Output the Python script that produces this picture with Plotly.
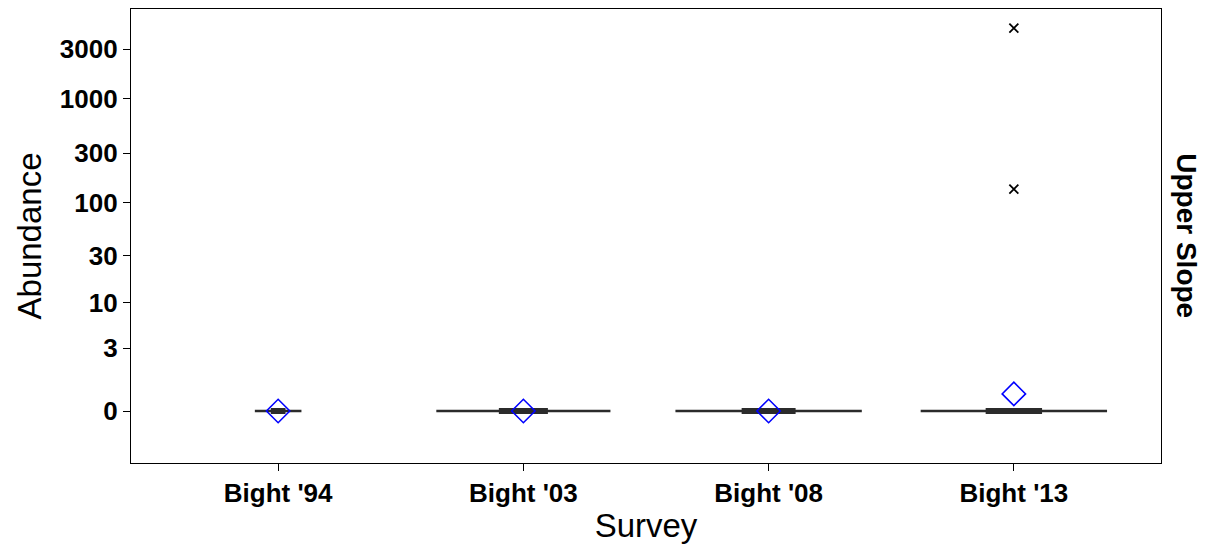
import numpy as np
import plotly.graph_objects as go

surveys = ["Bight '94", "Bight '03", "Bight '08", "Bight '13"]
medians = [0, 0, 0, 0]
means = [0, 0, 0, 0.46]
outlier_survey = ["Bight '13", "Bight '13"]
outlier_values = [4800, 135]
tick_values = [0, 3, 10, 30, 100, 300, 1000, 3000]

# style: half-widths (category units) of the violin line and the box line
violin_w = [0.095, 0.355, 0.38, 0.38]
box_w = [0.03, 0.10, 0.11, 0.115]


def tr(v):
    return np.log10(np.asarray(v, dtype=float) + 1)


pos = {s: i for i, s in enumerate(surveys)}
fig = go.Figure()

for i, s in enumerate(surveys):
    y = float(tr(medians[i]))
    fig.add_trace(go.Scatter(x=[i - violin_w[i], i + violin_w[i]], y=[y, y], mode="lines",
                             line=dict(color="#2b2b2b", width=2.6), showlegend=False, hoverinfo="skip"))
    fig.add_trace(go.Scatter(x=[i - box_w[i], i + box_w[i]], y=[y, y], mode="lines",
                             line=dict(color="#2b2b2b", width=6), showlegend=False, hoverinfo="skip"))

fig.add_trace(go.Scatter(x=[pos[s] for s in outlier_survey], y=tr(outlier_values), mode="markers",
                         marker=dict(symbol="x-thin-open", size=9, color="black", line=dict(color="black", width=1.8)),
                         showlegend=False))
fig.add_trace(go.Scatter(x=list(range(len(surveys))), y=tr(means), mode="markers",
                         marker=dict(symbol="diamond-open", size=18, color="blue", line=dict(color="blue", width=1.6)),
                         showlegend=False))

fig.update_layout(
    width=1211, height=552,
    margin=dict(l=123, r=58, t=1, b=97),
    plot_bgcolor="white", paper_bgcolor="white",
    font=dict(family="Liberation Sans, Arial, sans-serif", color="black"),
    xaxis=dict(range=[-0.6, 3.6], tickmode="array", tickvals=list(range(len(surveys))), ticktext=surveys,
               tickfont=dict(size=26, family="Liberation Sans, Arial", weight="bold"),
               ticks="outside", ticklen=7, tickcolor="black", showgrid=False, zeroline=False,
               showline=True, linecolor="black", linewidth=1.2, mirror=True,
               title=dict(text="Survey", font=dict(size=33), standoff=6)),
    yaxis=dict(range=[-0.5, 3.865], tickmode="array", tickvals=list(tr(tick_values)),
               ticktext=[str(v) for v in tick_values],
               tickfont=dict(size=26, family="Liberation Sans, Arial", weight="bold"),
               ticks="outside", ticklen=7, tickcolor="black", showgrid=False, zeroline=False,
               showline=True, linecolor="black", linewidth=1.2, mirror=True,
               title=dict(text="Abundance", font=dict(size=33), standoff=8)),
    annotations=[dict(text="<b>Upper Slope</b>", xref="paper", yref="paper", x=1.025, y=0.5,
                      showarrow=False, textangle=90, font=dict(size=28), xanchor="center", yanchor="middle")],
)

fig.write_html("out.html")
